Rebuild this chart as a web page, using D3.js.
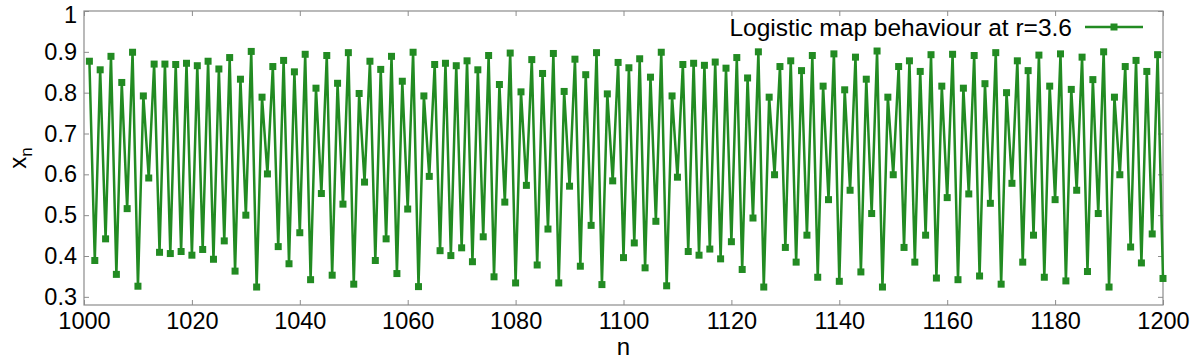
<!DOCTYPE html>
<html>
<head>
<meta charset="utf-8">
<script src="https://cdn.jsdelivr.net/npm/d3@7"></script>
<style>
  body { margin: 0; background: #fff; }
  svg { font-family: "Liberation Sans", Arial, sans-serif; }
</style>
</head>
<body>
<div id="chart"></div>
<script>
// first iteration plotted
const nStart = 1001;

// x_n, n = 1001 .. 1200
const xn = [
  0.877,0.389,0.856,0.442,0.889,0.355,0.825,0.516,0.899,0.326,0.792,0.591,0.870,0.409,0.870,0.406,0.869,0.411,0.872,0.402,
  0.866,0.416,0.877,0.392,0.858,0.437,0.886,0.363,0.833,0.500,0.901,0.324,0.789,0.601,0.864,0.423,0.879,0.381,0.851,0.457,
  0.894,0.342,0.811,0.553,0.891,0.353,0.823,0.527,0.898,0.331,0.798,0.581,0.877,0.389,0.857,0.442,0.889,0.357,0.828,0.515,
  0.899,0.325,0.792,0.595,0.869,0.413,0.872,0.401,0.866,0.420,0.878,0.386,0.856,0.447,0.891,0.349,0.820,0.532,0.897,0.334,
  0.802,0.573,0.881,0.378,0.847,0.466,0.896,0.334,0.803,0.571,0.882,0.375,0.844,0.475,0.898,0.330,0.797,0.584,0.874,0.396,
  0.861,0.432,0.883,0.371,0.838,0.485,0.899,0.327,0.792,0.593,0.869,0.411,0.872,0.402,0.867,0.417,0.875,0.393,0.860,0.435,
  0.886,0.367,0.836,0.493,0.900,0.324,0.789,0.599,0.864,0.421,0.878,0.385,0.854,0.451,0.891,0.348,0.816,0.538,0.895,0.338,
  0.807,0.561,0.887,0.361,0.833,0.504,0.902,0.324,0.789,0.599,0.864,0.421,0.878,0.385,0.852,0.451,0.893,0.346,0.816,0.543,
  0.894,0.342,0.811,0.552,0.891,0.351,0.822,0.529,0.898,0.331,0.800,0.578,0.878,0.385,0.854,0.451,0.892,0.348,0.816,0.538,
  0.895,0.339,0.808,0.561,0.887,0.362,0.832,0.504,0.900,0.324,0.789,0.599,0.864,0.422,0.879,0.383,0.852,0.454,0.893,0.345
];

const xTicks = [1000, 1020, 1040, 1060, 1080, 1100, 1120, 1140, 1160, 1180, 1200];
const yTicks = [0.3, 0.4, 0.5, 0.6, 0.7, 0.8, 0.9, 1];
const legendLabel = "Logistic map behaviour at r=3.6";

const data = xn.map((v, i) => ({ n: nStart + i, v: v }));

const W = 1200, H = 360;
const margin = { top: 11, right: 37, bottom: 55, left: 84 };
const width = W - margin.left - margin.right;
const height = H - margin.top - margin.bottom;
const green = "#228b22";
const frame = "#8c8c8c";

const svg = d3.select("#chart")
  .append("svg")
  .attr("width", W)
  .attr("height", H);

const g = svg.append("g")
  .attr("transform", "translate(" + margin.left + "," + margin.top + ")");

const x = d3.scaleLinear().domain([1000, 1200]).range([0, width]);
const y = d3.scaleLinear().domain([0.28, 1]).range([height, 0]);

// ticks inside on all four sides (mirrored)
const tickLen = 5;
function styleAxis(sel) {
  sel.select(".domain").remove();
  sel.selectAll(".tick line").attr("stroke", frame).attr("stroke-width", 1);
  sel.selectAll(".tick text").attr("fill", "#000").style("font-size", "23.5px");
}

g.append("g")
  .attr("transform", "translate(0," + height + ")")
  .call(d3.axisBottom(x).tickValues(xTicks).tickFormat(d3.format("d")).tickSizeInner(-tickLen).tickPadding(7))
  .call(styleAxis);

g.append("g")
  .call(d3.axisTop(x).tickValues(xTicks).tickSizeInner(-tickLen).tickFormat(""))
  .call(styleAxis);

const yAxis = g.append("g")
  .call(d3.axisLeft(y).tickValues(yTicks).tickFormat(d => d === 1 ? "1" : d3.format(".1f")(d)).tickSizeInner(-tickLen).tickPadding(7))
  .call(styleAxis);
// keep the top label inside the page
yAxis.selectAll(".tick text").filter(d => d === 1).attr("dy", "0.5em");

g.append("g")
  .attr("transform", "translate(" + width + ",0)")
  .call(d3.axisRight(y).tickValues(yTicks).tickSizeInner(-tickLen).tickFormat(""))
  .call(styleAxis);

g.append("rect")
  .attr("width", width)
  .attr("height", height)
  .attr("fill", "none")
  .attr("stroke", frame)
  .attr("stroke-width", 1.2);

// series
const line = d3.line().x(d => x(d.n)).y(d => y(d.v));

g.append("path")
  .datum(data)
  .attr("fill", "none")
  .attr("stroke", green)
  .attr("stroke-width", 2.5)
  .attr("stroke-linejoin", "miter")
  .attr("d", line);

const ms = 7;
g.selectAll(".pt")
  .data(data)
  .enter().append("rect")
  .attr("class", "pt")
  .attr("x", d => x(d.n) - ms / 2)
  .attr("y", d => y(d.v) - ms / 2)
  .attr("width", ms)
  .attr("height", ms)
  .attr("fill", green);

// legend
const lg = g.append("g").attr("transform", "translate(" + (width - 78) + ",16)");
lg.append("text")
  .attr("x", -13)
  .attr("y", 9)
  .attr("text-anchor", "end")
  .style("font-size", "24.5px")
  .text(legendLabel);
lg.append("line")
  .attr("x1", 0).attr("x2", 58)
  .attr("stroke", green).attr("stroke-width", 2.5);
lg.append("rect")
  .attr("x", 29 - ms / 2).attr("y", -ms / 2)
  .attr("width", ms).attr("height", ms)
  .attr("fill", green);

// axis titles
svg.append("text")
  .attr("x", margin.left + width / 2)
  .attr("y", H - 5)
  .attr("text-anchor", "middle")
  .style("font-size", "24px")
  .text("n");

const yt = svg.append("text")
  .attr("transform", "translate(26," + (margin.top + height / 2) + ") rotate(-90)")
  .attr("text-anchor", "middle")
  .style("font-size", "24px");
yt.append("tspan").text("x");
yt.append("tspan").attr("dy", 6).style("font-size", "17px").text("n");
</script>
</body>
</html>
